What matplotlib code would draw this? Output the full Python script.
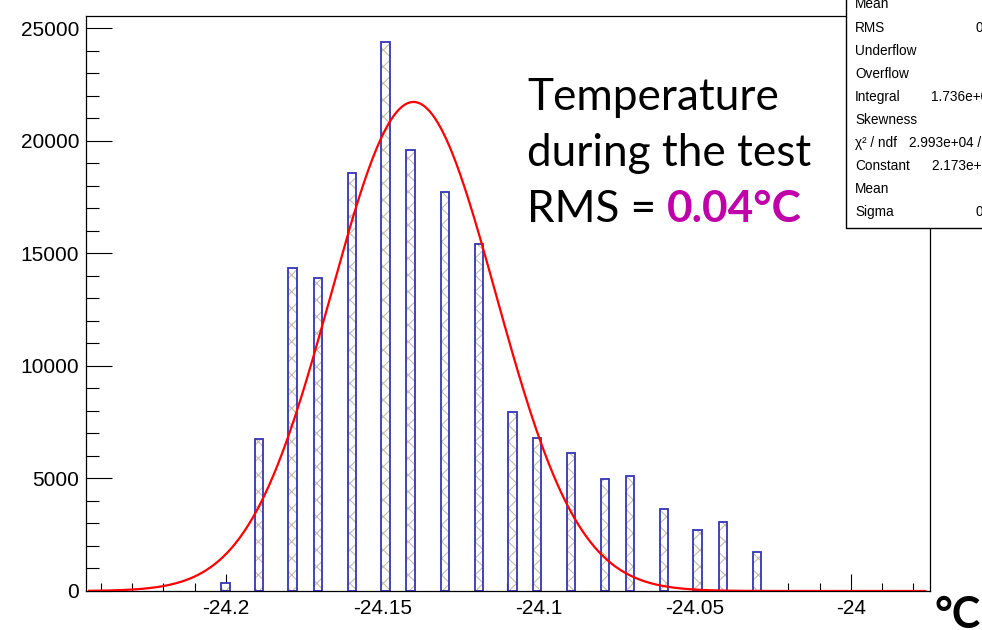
import numpy as np
import matplotlib
matplotlib.use("Agg")
import matplotlib.pyplot as plt
from matplotlib.patches import Rectangle
from matplotlib.ticker import MultipleLocator, FuncFormatter

# temperature readings (deg C) and entries per bin
temps = [-24.2001, -24.1895, -24.1787, -24.1705, -24.1596, -24.1490,
         -24.1409, -24.1300, -24.1191, -24.1083, -24.1004, -24.0896,
         -24.0787, -24.0707, -24.0599, -24.0491, -24.0410, -24.0301]
counts = [340, 6750, 14340, 13900, 18590, 24380, 19580, 17730, 15400,
          7960, 6820, 6140, 4960, 5120, 3630, 2710, 3050, 1730]
bin_width = 0.0027

# gaussian fit
fit_constant = 2.173e4
fit_mean = -24.1400
fit_sigma = 0.0264

x_range = (-24.2448, -23.9747)
y_max = 25550

stat_names = ["Mean", "RMS", "Underflow", "Overflow", "Integral", "Skewness",
              "\u03c7\u00b2 / ndf", "Constant", "Mean", "Sigma"]
stat_values = ["", "0.03912", "", "", "1.736e+05", "",
               "2.993e+04 / 16", "2.173e+04 \u00b1 7.3e+01", "", "0.0264 \u00b1 0.0001"]
stat_value_x = [None, 976, None, None, 931, None, 909, 932, None, 976]

W, H = 982, 630
plt.rcParams['font.family'] = ['Liberation Sans', 'DejaVu Sans']
plt.rcParams['hatch.linewidth'] = 0.8

fig = plt.figure(figsize=(W / 100, H / 100), dpi=100)
ax = fig.add_axes([86 / W, 39 / H, (930 - 86) / W, (591 - 16) / H])

def px(x, y):
    return x / W, 1 - y / H

# hatch first, outline on top
ax.bar(temps, counts, width=bin_width, color='white', edgecolor='#c4bda6',
       hatch='xx', linewidth=0, zorder=2)
ax.bar(temps, counts, width=bin_width, fill=False, edgecolor='#3434b8',
       linewidth=1.3, zorder=2.5)

xs = np.linspace(x_range[0] + 0.001, x_range[1] - 0.0015, 600)
ax.plot(xs, fit_constant * np.exp(-0.5 * ((xs - fit_mean) / fit_sigma) ** 2),
        color='#ff0000', lw=1.6, zorder=3)

ax.set_xlim(*x_range)
ax.set_ylim(0, y_max)
ax.xaxis.set_major_locator(MultipleLocator(0.05))
ax.xaxis.set_minor_locator(MultipleLocator(0.01))
ax.yaxis.set_major_locator(MultipleLocator(5000))
ax.yaxis.set_minor_locator(MultipleLocator(1000))
ax.xaxis.set_major_formatter(FuncFormatter(lambda v, p: '%g' % round(v, 3)))
ax.tick_params(axis='both', which='both', direction='in', top=False, right=False,
               labelsize=15, colors='black', width=0.8)
ax.tick_params(axis='y', which='major', length=18.5, pad=5)
ax.tick_params(axis='y', which='minor', length=9.4)
ax.tick_params(axis='x', which='major', length=12, pad=6)
ax.tick_params(axis='x', which='minor', length=6)
for s in ax.spines.values():
    s.set_linewidth(0.9)

# stats box
fig.add_artist(Rectangle(px(846, 228), (1000 - 846) / W, 240 / H,
                         transform=fig.transFigure, facecolor='white',
                         edgecolor='black', lw=1.0, zorder=5))
for i, name in enumerate(stat_names):
    yb = 8.5 + 23.1 * i
    fig.text(*px(855, yb), name, fontsize=9.8, va='baseline', zorder=6)
    if stat_value_x[i] is not None:
        fig.text(*px(stat_value_x[i], yb), stat_values[i], fontsize=9.8,
                 va='baseline', zorder=6)

big = dict(family=['Lato', 'DejaVu Sans'], fontsize=31.8, va='baseline')
fig.text(*px(527, 110), "Temperature", **big)
fig.text(*px(527, 166), "during the test", **big)
t = fig.text(*px(527, 222), "RMS = ", **big)
fig.canvas.draw()
bb = t.get_window_extent()
fig.text(bb.x1 / W, 1 - 222 / H, "0.04\u00b0C", color='#c000a8',
         fontweight='bold', **big)

fig.text(*px(935, 628), "\u00b0C", family=['Lato', 'DejaVu Sans'],
         fontsize=31, fontweight='bold', va='baseline')

fig.savefig("out.png", dpi=100)
